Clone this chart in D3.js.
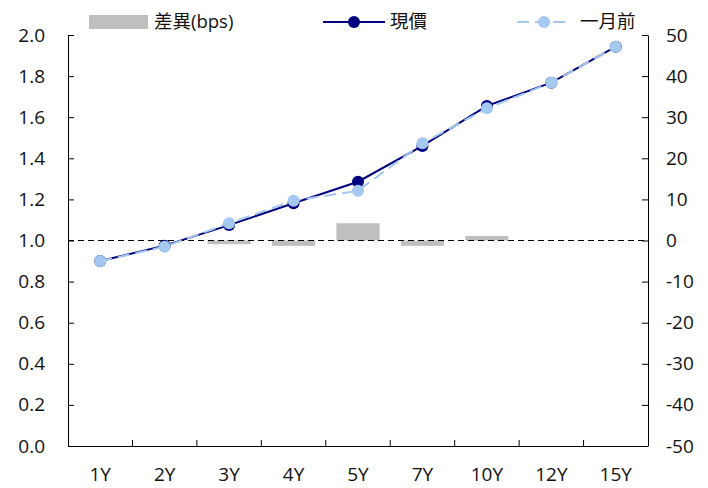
<!DOCTYPE html>
<html><head><meta charset="utf-8">
<script src="https://cdn.jsdelivr.net/npm/d3@7"></script>
<style>body{margin:0;background:#fff}svg{display:block}text{font-family:"Open Sans","Noto Sans CJK TC",sans-serif;}</style>
</head><body><svg id="c" width="708" height="488"></svg>
<script>
const categories = ["1Y","2Y","3Y","4Y","5Y","7Y","10Y","12Y","15Y"];
const current = [0.900,0.975,1.075,1.181,1.286,1.460,1.655,1.768,1.943];
const monthAgo = [0.900,0.970,1.084,1.194,1.242,1.473,1.643,1.768,1.943];
const diffBps = [0,0,-0.9,-1.3,4.2,-1.3,1.1,0,0];
const leftTicks = [0,0.2,0.4,0.6,0.8,1.0,1.2,1.4,1.6,1.8,2.0];
const rightTicks = [-50,-40,-30,-20,-10,0,10,20,30,40,50];
const legendLabels = ["差異(bps)","現價","一月前"];

const svg = d3.select("#c");
const L=68,R=648,T=35,B=446;
const x = d3.scaleBand().domain(categories).range([L,R]);
const yL = d3.scaleLinear().domain([0,2]).range([B,T]);
const yR = d3.scaleLinear().domain([-50,50]).range([B,T]);
const navy="#000080", light="#a4c8f0", grey="#bfbfbf";

// bars
svg.append("g").selectAll("rect").data(diffBps).join("rect")
  .attr("x",(d,i)=>x(categories[i])+x.bandwidth()*0.165)
  .attr("width",x.bandwidth()*0.67)
  .attr("y",d=>yR(Math.max(0,d)))
  .attr("height",d=>Math.abs(yR(d)-yR(0)))
  .attr("fill",grey);

// zero dashed line
svg.append("line").attr("x1",L).attr("x2",R).attr("y1",yR(0)).attr("y2",yR(0))
  .attr("stroke","#000").attr("stroke-width",1).attr("stroke-dasharray","6,4");

// axes
const fs = "19px";
const gl = svg.append("g").attr("transform",`translate(${L},0)`)
  .call(d3.axisLeft(yL).tickValues(leftTicks).tickFormat(d3.format(".1f")).tickSizeInner(-6).tickSizeOuter(0).tickPadding(23));
const gr = svg.append("g").attr("transform",`translate(${R},0)`)
  .call(d3.axisRight(yR).tickValues(rightTicks).tickFormat(d=>d).tickSizeInner(-6).tickSizeOuter(0).tickPadding(18));
const gb = svg.append("g").attr("transform",`translate(0,${B})`)
  .call(d3.axisBottom(x).tickSize(0).tickPadding(22));
// category boundary ticks
svg.append("g").selectAll("line").data(categories.slice(1)).join("line")
  .attr("x1",d=>x(d)).attr("x2",d=>x(d)).attr("y1",B).attr("y2",B-6)
  .attr("stroke","#000");
[gl,gr,gb].forEach(g=>{
  g.selectAll("text").attr("font-size",fs).attr("fill","#111");
  g.selectAll("path,line").attr("stroke","#000");
});
gb.select(".domain").attr("d",`M${L},0.5H${R}`);

// lines
const lineGen = arr => d3.line().x((d,i)=>x(categories[i])+x.bandwidth()/2).y(d=>yL(d))(arr);
svg.append("path").attr("d",lineGen(current)).attr("fill","none").attr("stroke",navy).attr("stroke-width",2);
svg.append("g").selectAll("circle").data(current).join("circle")
  .attr("cx",(d,i)=>x(categories[i])+x.bandwidth()/2).attr("cy",d=>yL(d)).attr("r",6).attr("fill",navy);
svg.append("path").attr("d",lineGen(monthAgo)).attr("fill","none").attr("stroke",light).attr("stroke-width",2).attr("stroke-dasharray","12,6");
svg.append("g").selectAll("circle").data(monthAgo).join("circle")
  .attr("cx",(d,i)=>x(categories[i])+x.bandwidth()/2).attr("cy",d=>yL(d)).attr("r",6).attr("fill",light);

// legend
const ly=22;
svg.append("rect").attr("x",89).attr("y",ly-7).attr("width",59).attr("height",14).attr("fill",grey);
svg.append("text").attr("x",154).attr("y",ly).attr("dy","0.35em").attr("font-size","18.5px").attr("fill","#111").text(legendLabels[0]);
svg.append("line").attr("x1",323).attr("x2",385).attr("y1",ly).attr("y2",ly).attr("stroke",navy).attr("stroke-width",2);
svg.append("circle").attr("cx",354).attr("cy",ly).attr("r",6).attr("fill",navy);
svg.append("text").attr("x",390).attr("y",ly).attr("dy","0.35em").attr("font-size","18.5px").attr("fill","#111").text(legendLabels[1]);
svg.append("line").attr("x1",515).attr("x2",571).attr("y1",ly).attr("y2",ly).attr("stroke",light).attr("stroke-width",2).attr("stroke-dasharray","12,6").attr("stroke-dashoffset",-2);
svg.append("circle").attr("cx",544).attr("cy",ly).attr("r",6).attr("fill",light);
svg.append("text").attr("x",580).attr("y",ly).attr("dy","0.35em").attr("font-size","18.5px").attr("fill","#111").text(legendLabels[2]);
</script></body></html>
